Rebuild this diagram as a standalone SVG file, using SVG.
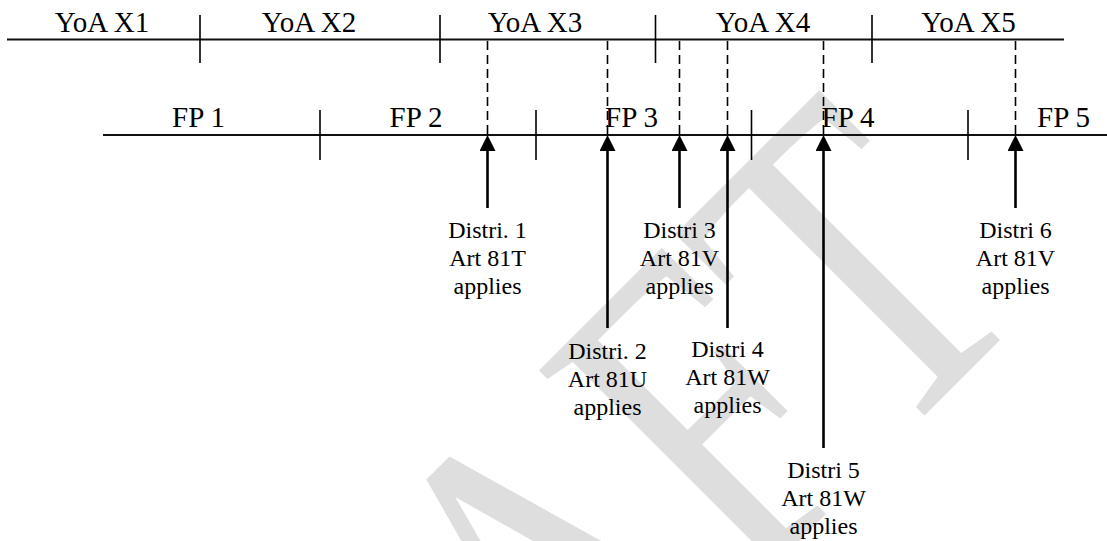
<svg xmlns="http://www.w3.org/2000/svg" width="1107" height="541" viewBox="0 0 1107 541">
<style>
.wm{font-family:"Liberation Serif",serif;font-size:465px;fill:#dedede}
.lbl{font-family:"Liberation Serif",serif;font-size:29px;fill:#000;text-anchor:middle}
.dl{font-family:"Liberation Serif",serif;font-size:24px;fill:#000;text-anchor:middle}
.axis{stroke:#111;stroke-width:2;fill:none}
.tick{stroke:#000;stroke-width:1.6;fill:none}
.dash{stroke:#000;stroke-width:1.6;stroke-dasharray:9 5;fill:none}
.arr{stroke:#000;stroke-width:2.6;fill:none;marker-end:url(#ah)}
</style>
<defs>
<marker id="ah" markerUnits="userSpaceOnUse" viewBox="0 0 16 16" refX="11" refY="8" markerWidth="16" markerHeight="16" orient="auto">
<path d="M0,0 L16,8 L0,16 z" fill="#000"/>
</marker>
</defs>
<rect width="1107" height="541" fill="#fff"/>
<text class="wm" transform="translate(219.5,1120.5) rotate(-45) scale(0.76,1)" x="0" y="0">DRAFT</text>

<g id="yoa-axis">
<line class="axis" x1="7" y1="39.5" x2="1064" y2="39.5"/>
<line class="tick" x1="200" y1="15" x2="200" y2="63"/>
<line class="tick" x1="440" y1="15" x2="440" y2="63"/>
<line class="tick" x1="655.5" y1="15" x2="655.5" y2="63"/>
<line class="tick" x1="872" y1="15" x2="872" y2="63"/>
<text class="lbl" x="102" y="32">YoA X1</text>
<text class="lbl" x="309" y="32">YoA X2</text>
<text class="lbl" x="535" y="32">YoA X3</text>
<text class="lbl" x="763" y="32">YoA X4</text>
<text class="lbl" x="968.5" y="32">YoA X5</text>
</g>

<g id="fp-axis">
<line class="axis" x1="103" y1="135" x2="1107" y2="135"/>
<line class="tick" x1="320" y1="110" x2="320" y2="160"/>
<line class="tick" x1="536" y1="110" x2="536" y2="160"/>
<line class="tick" x1="751.5" y1="110" x2="751.5" y2="160"/>
<line class="tick" x1="968" y1="110" x2="968" y2="160"/>
<text class="lbl" x="198.5" y="127">FP 1</text>
<text class="lbl" x="416" y="127">FP 2</text>
<text class="lbl" x="631.5" y="127">FP 3</text>
<text class="lbl" x="848" y="127">FP 4</text>
<text class="lbl" x="1063.5" y="127">FP 5</text>
</g>

<g id="connectors">
<line class="dash" x1="487.5" y1="41" x2="487.5" y2="135"/>
<line class="dash" x1="607.5" y1="41" x2="607.5" y2="135"/>
<line class="dash" x1="679.5" y1="41" x2="679.5" y2="135"/>
<line class="dash" x1="727.5" y1="41" x2="727.5" y2="135"/>
<line class="dash" x1="823.5" y1="41" x2="823.5" y2="135"/>
<line class="dash" x1="1015.5" y1="41" x2="1015.5" y2="135"/>
<line class="arr" x1="487.5" y1="208" x2="487.5" y2="140"/>
<line class="arr" x1="607.5" y1="328" x2="607.5" y2="140"/>
<line class="arr" x1="679.5" y1="208" x2="679.5" y2="140"/>
<line class="arr" x1="727.5" y1="328" x2="727.5" y2="140"/>
<line class="arr" x1="823.5" y1="448" x2="823.5" y2="140"/>
<line class="arr" x1="1015.5" y1="208" x2="1015.5" y2="140"/>
</g>

<g id="distri1">
<text class="dl" x="487.5" y="238">Distri. 1</text>
<text class="dl" x="487.5" y="266">Art 81T</text>
<text class="dl" x="487.5" y="294">applies</text>
</g>
<g id="distri2">
<text class="dl" x="607.5" y="359">Distri. 2</text>
<text class="dl" x="607.5" y="387">Art 81U</text>
<text class="dl" x="607.5" y="415">applies</text>
</g>
<g id="distri3">
<text class="dl" x="679.5" y="238">Distri 3</text>
<text class="dl" x="679.5" y="266">Art 81V</text>
<text class="dl" x="679.5" y="294">applies</text>
</g>
<g id="distri4">
<text class="dl" x="727.5" y="357">Distri 4</text>
<text class="dl" x="727.5" y="385">Art 81W</text>
<text class="dl" x="727.5" y="413">applies</text>
</g>
<g id="distri5">
<text class="dl" x="823.5" y="478">Distri 5</text>
<text class="dl" x="823.5" y="506">Art 81W</text>
<text class="dl" x="823.5" y="534">applies</text>
</g>
<g id="distri6">
<text class="dl" x="1015.5" y="237.5">Distri 6</text>
<text class="dl" x="1015.5" y="265.5">Art 81V</text>
<text class="dl" x="1015.5" y="293.5">applies</text>
</g>
</svg>
